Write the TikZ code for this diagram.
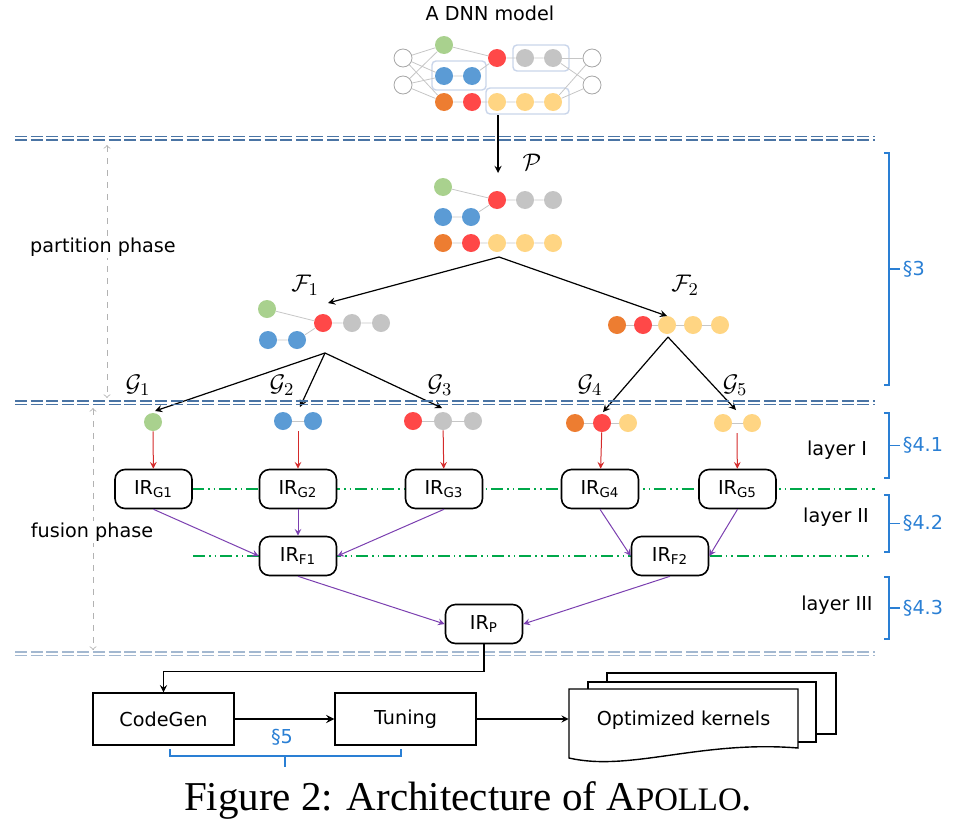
\documentclass[tikz,border=0pt]{standalone}
\usepackage[no-math]{fontspec}
\setmainfont{DejaVu Sans}
\newfontfamily\capfont{Liberation Serif}
\definecolor{cgreen}{HTML}{A9D18E}
\definecolor{cblue}{HTML}{5B9BD5}
\definecolor{cred}{HTML}{FF4848}
\definecolor{cgray}{HTML}{C4C4C4}
\definecolor{corange}{HTML}{ED7D31}
\definecolor{cyellow}{HTML}{FFD583}
\definecolor{phase}{HTML}{4A74A4}
\definecolor{phaselight}{HTML}{A3B8D0}
\definecolor{layergreen}{HTML}{00A84A}
\definecolor{fusepurple}{HTML}{7B3FB0}
\definecolor{secblue}{HTML}{2A7FD4}
\definecolor{lowred}{HTML}{D42A2A}
\definecolor{grpline}{HTML}{C9D5EA}
\begin{document}
\begin{tikzpicture}[>=stealth,x=0.5pt,y=-0.5pt,font=\fontsize{9.6}{11.5}\selectfont,
ball/.style={circle,fill=#1,minimum size=9pt,inner sep=0pt},
hollow/.style={circle,draw=gray!70,fill=white,minimum size=9pt,inner sep=0pt},
link/.style={gray!45,line width=0.4pt},
grp/.style={draw=grpline,rounded corners=2pt,line width=0.7pt},
ir/.style={draw,rounded corners=5pt,fill=white,line width=0.8pt,minimum width=38.5pt,minimum height=19.5pt,inner sep=0pt},
blk/.style={draw,line width=0.7pt,minimum width=70.5pt,minimum height=26pt},
lbl/.style={font=\fontsize{13}{15}\selectfont},
toir/.style={->,lowred,line width=0.5pt},
fuse/.style={->,fusepurple,line width=0.5pt},
split/.style={->,line width=0.6pt},
greenline/.style={layergreen,dash pattern=on 6pt off 2pt on 0.8pt off 2pt on 0.8pt off 2pt}]
\useasboundingbox (0,0) rectangle (956,830);
% the model
\node (title) at (490,13) {A DNN model};
\draw[grp] (432,61) rectangle (486,90);
\draw[grp] (513,45) rectangle (569,71);
\draw[grp] (486,88) rectangle (569,114);
\node[hollow] (i1) at (403,58) {}; \node[hollow] (i2) at (403,85) {};
\node[hollow] (o1) at (592,58) {}; \node[hollow] (o2) at (592,85) {};
\node[ball=cgreen] (dg) at (444,45) {};
\node[ball=cblue] (db1) at (444,76) {}; \node[ball=cblue] (db2) at (472,76) {};
\node[ball=corange] (do) at (444,102) {}; \node[ball=cred] (dr2) at (472,102) {};
\node[ball=cred] (dr1) at (497,58) {};
\node[ball=cgray] (dk1) at (525,58) {}; \node[ball=cgray] (dk2) at (553,58) {};
\node[ball=cyellow] (dy1) at (497,102) {}; \node[ball=cyellow] (dy2) at (525,102) {}; \node[ball=cyellow] (dy3) at (553,102) {};
\foreach \a in {i1,i2} \foreach \b in {dg,db1,do} \draw[link] (\a) -- (\b);
\foreach \a in {o1,o2} \foreach \b in {dk2,dy3} \draw[link] (\a) -- (\b);
\draw[link] (dg) -- (dr1) (db1) -- (db2) -- (dr1) -- (dk1) -- (dk2) (do) -- (dr2) -- (dy1) -- (dy2) -- (dy3);
\coordinate (dnnout) at (498,115);
% partition P
\node[ball=cgreen] (pg) at (443,187) {};
\node[ball=cred] (pr) at (497,200) {};
\node[ball=cgray] (pk1) at (525,200) {}; \node[ball=cgray] (pk2) at (553,200) {};
\node[ball=cblue] (pb1) at (443,217) {}; \node[ball=cblue] (pb2) at (471,217) {};
\node[ball=corange] (po) at (443,243) {}; \node[ball=cred] (pr2) at (471,243) {};
\node[ball=cyellow] (py1) at (497,243) {}; \node[ball=cyellow] (py2) at (525,243) {}; \node[ball=cyellow] (py3) at (553,243) {};
\draw[link] (pg) -- (pr) (pb1) -- (pb2) -- (pr) -- (pk1) -- (pk2) (po) -- (pr2) -- (py1) -- (py2) -- (py3);
\node[lbl] (lp) at (532,162) {$\mathcal{P}$};
\coordinate (pin) at (498,173);
\coordinate (pout) at (499,257);
\draw[split] (dnnout) -- (pin);
% F1 and F2
\node[ball=cgreen] (ag) at (267,309) {};
\node[ball=cred] (ar) at (323,323) {};
\node[ball=cgray] (ak1) at (352,323) {}; \node[ball=cgray] (ak2) at (381,323) {};
\node[ball=cblue] (ab1) at (268,340) {}; \node[ball=cblue] (ab2) at (297,340) {};
\draw[link] (ag) -- (ar) (ab1) -- (ab2) -- (ar) -- (ak1) -- (ak2);
\node[ball=corange] (bo) at (617,325) {}; \node[ball=cred] (br) at (643,325) {};
\node[ball=cyellow] (by1) at (667,325) {}; \node[ball=cyellow] (by2) at (693,325) {}; \node[ball=cyellow] (by3) at (720,325) {};
\draw[link] (bo) -- (br) -- (by1) -- (by2) -- (by3);
\node[lbl] (lf1) at (305,285) {$\mathcal{F}_1$};
\node[lbl] (lf2) at (685,285) {$\mathcal{F}_2$};
\coordinate (f1in) at (328,303); \coordinate (f1out) at (325,353);
\coordinate (f2in) at (667,316); \coordinate (f2out) at (668,337);
\draw[split] (pout) -- (f1in);
\draw[split] (pout) -- (f2in);
% G1 .. G5
\node[ball=cgreen] (g1a) at (153,422) {};
\node[ball=cblue] (g2a) at (283,421) {}; \node[ball=cblue] (g2b) at (313,421) {};
\node[ball=cred] (g3a) at (413,421) {}; \node[ball=cgray] (g3b) at (443,421) {}; \node[ball=cgray] (g3c) at (473,421) {};
\node[ball=corange] (g4a) at (575,423) {}; \node[ball=cred] (g4b) at (602,423) {}; \node[ball=cyellow] (g4c) at (628,423) {};
\node[ball=cyellow] (g5a) at (723,423) {}; \node[ball=cyellow] (g5b) at (752,423) {};
\draw[link] (g2a) -- (g2b) (g3a) -- (g3b) -- (g3c) (g4a) -- (g4b) -- (g4c) (g5a) -- (g5b);
\foreach \n/\x in {1/138,2/282,3/440,4/590,5/735} \node[lbl] (lg\n) at (\x,385) {$\mathcal{G}_\n$};
\coordinate (g1in) at (155,411); \coordinate (g2in) at (300,407); \coordinate (g3in) at (442,408);
\coordinate (g4in) at (603,412); \coordinate (g5in) at (736,410);
\foreach \n in {1,2,3} \draw[split] (f1out) -- (g\n in);
\foreach \n in {4,5} \draw[split] (f2out) -- (g\n in);
\coordinate (g2out) at (298,431); \coordinate (g5out) at (737,433);
% phase borders
\foreach \y/\c in {136.5/phase,140/phase,401/phase,404.5/phase,652/phaselight,655.5/phaselight}
  \draw[\c,line width=0.7pt,dash pattern=on 6pt off 1.8pt] (15,\y) -- (875,\y);
\draw[gray!60,dashed,<->,>=to] (107,145) -- (107,398);
\node[fill=white,inner sep=1pt] (partition) at (103,247) {partition phase};
\draw[gray!60,dashed,<->,>=to] (93,408) -- (93,650);
\node[fill=white,inner sep=1pt] (fusion) at (92,532) {fusion phase};
% layers
\draw[greenline,line width=0.6pt] (192,489) -- (875,489);
\draw[greenline,line width=0.9pt] (193,556) -- (870,556);
\node[ir] (irg1) at (153.5,489) {IR\textsubscript{G1}};
\node[ir] (irg2) at (298,489) {IR\textsubscript{G2}};
\node[ir] (irg3) at (444,489) {IR\textsubscript{G3}};
\node[ir] (irg4) at (600,489) {IR\textsubscript{G4}};
\node[ir] (irg5) at (737.5,489) {IR\textsubscript{G5}};
\node[ir] (irf1) at (298,556) {IR\textsubscript{F1}};
\node[ir] (irf2) at (670,556) {IR\textsubscript{F2}};
\node[ir] (irp) at (484,624) {IR\textsubscript{P}};
\draw[toir] (g1a) -- (irg1);
\draw[toir] (g2out) -- (irg2);
\draw[toir] (g3b) -- (irg3);
\draw[toir] (g4b) -- (irg4);
\draw[toir] (g5out) -- (irg5);
\draw[fuse] (irg1.south) -- (irf1.west);
\draw[fuse] (irg2.south) -- (irf1.north);
\draw[fuse] (irg3.south) -- (irf1.east);
\draw[fuse] (irg4.south) -- (irf2.west);
\draw[fuse] (irg5.south) -- (irf2.east);
\draw[fuse] (irf1.south) -- (irp.west);
\draw[fuse] (irf2.south) -- (irp.east);
\node (layer1) at (837,450) {layer I};
\node (layer2) at (836,517) {layer II};
\node (layer3) at (837,605) {layer III};
% sections
\foreach \t/\b/\s [count=\k] in {153/385/3,413/478/4.1,495/552/4.2,577/639/4.3} {
  \draw[secblue,line width=0.9pt] (884,\t) -- (889,\t) -- (889,\b) -- (884,\b);
  \draw[secblue,line width=0.9pt] (889,{(\t+\b)/2}) -- (900,{(\t+\b)/2}) node[right,inner sep=1pt] (sec\k) {\S\s};
}
% code generation
\node[blk] (codegen) at (163.5,719) {CodeGen};
\node[blk] (tuning) at (405.5,719) {Tuning};
\draw[split] (irp.south) -- ++(0,27) -| (codegen.north);
\draw[->,line width=0.8pt] (codegen) -- (tuning);
\draw[secblue,line width=0.6pt] (170,749) -- (170,756) -- (401,756) -- (401,749) (285,756) -- (285,767);
\node[secblue] (sec5) at (282,737) {\S5};
\filldraw[fill=white,line width=0.7pt] (607,673) rectangle (836,734);
\filldraw[fill=white,line width=0.7pt] (588,682) rectangle (816,742);
\filldraw[fill=white,line width=0.7pt] (569,689) -- (798,689) -- (798,748) .. controls (700,740) and (630,772) .. (569,758) -- cycle;
\node[minimum width=114.5pt,minimum height=30pt,inner sep=0pt] (kernels) at (683.5,720) {Optimized kernels};
\draw[split] (tuning.east) -- (tuning.east -| kernels.west);
\node[font=\capfont\fontsize{20.5}{24}\selectfont,anchor=base] (caption) at (468,810) {Figure 2: Architecture of A{\fontsize{16.4}{20}\selectfont POLLO}.};
\end{tikzpicture}
\end{document}
